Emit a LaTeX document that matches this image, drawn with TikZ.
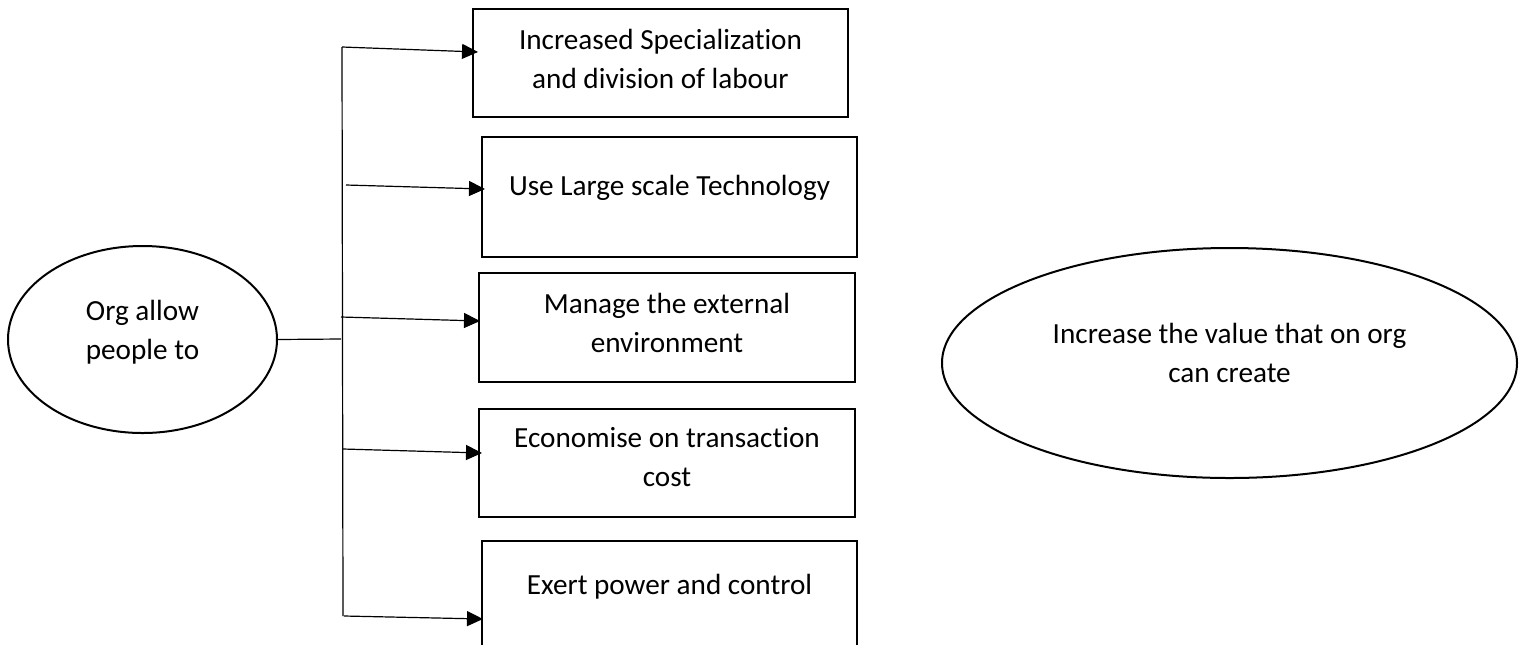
\documentclass[tikz,border=0pt]{standalone}
\usepackage{fontspec}
\setmainfont{Carlito}[Ligatures={NoCommon}]
\usetikzlibrary{shapes.geometric,arrows.meta,calc}
\begin{document}
\begin{tikzpicture}[x=0.5pt,y=-0.5pt,
  every node/.style={inner sep=0pt, outer sep=0pt},
  txt/.style={font=\fontsize{14.6}{19.5}\selectfont, align=center},
  boxnode/.style={draw, rectangle, line width=1.2pt, minimum width=187.5pt},
  ellip/.style={draw, ellipse, line width=1pt},
  conn/.style={line width=0.6pt},
  arr/.style={conn, -{Triangle[length=8pt,width=7.5pt]}}]
\useasboundingbox (0,0) rectangle (1526,644);

% boxes
\node[boxnode, minimum height=54pt]   (b1) at (660.5,63)  {};
\node[boxnode, minimum height=60pt]   (b2) at (669.5,197) {};
\node[boxnode, minimum height=54.5pt, minimum width=188pt] (b3) at (667,327.5) {};
\node[boxnode, minimum height=54pt, minimum width=188pt]   (b4) at (667,463) {};
\node[boxnode, minimum height=60pt]   (b5) at (669.5,601) {};

\node[txt] (t1) at ($(b1.center)+(0,-4)$)  {Increased Specialization\\and division of labour};
\node[txt] (t2) at ($(b2.center)+(0,-9)$)  {Use Large scale Technology};
\node[txt] (t3) at ($(b3.center)+(0,-5)$)  {Manage the external\\environment};
\node[txt] (t4) at ($(b4.center)+(0,-5.5)$) {Economise on transaction\\cost};
\node[txt] (t5) at ($(b5.center)+(0,-14)$) {Exert power and control};

% ellipses
\node[ellip, minimum width=134.5pt, minimum height=93.5pt] (e1) at (142.5,339.5) {};
\node[txt] (te1) at (142.5,332) {Org allow\\people to};
\node[ellip, minimum width=287.5pt, minimum height=115pt] (e2) at (1229.5,363) {};
\node[txt] (te2) at (1229.5,352.5) {Increase the value that on org\\can create};

% branch connectors
\coordinate (vtop) at (342,47);
\coordinate (vbot) at (343,616);
\coordinate (j) at (341,339);
\coordinate (s2) at (346,185);
\coordinate (s3) at (341,317);
\coordinate (s4) at (343,449);
\coordinate (s5) at (344,616);

\draw[conn] (vtop) -- (vbot);
\draw[conn] (e1.east) -- (j);
\draw[arr] (vtop) -- ($(b1.west)+(5,-11)$);
\draw[arr] (s2) -- ($(b2.west)+(3,-8)$);
\draw[arr] (s3) -- ($(b3.west)+(1,-6.5)$);
\draw[arr] (s4) -- ($(b4.west)+(3,-10)$);
\draw[arr] (s5) -- ($(b5.west)+(1,18)$);
\end{tikzpicture}
\end{document}
